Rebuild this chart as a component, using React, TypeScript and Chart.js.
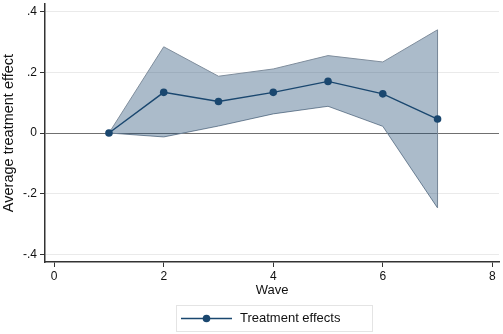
import React, { useEffect, useRef } from "react";
import { Chart, registerables } from "chart.js";

Chart.register(...registerables);

const waves = [1, 2, 3, 4, 5, 6, 7];
const effects = [0, 0.134, 0.104, 0.134, 0.17, 0.129, 0.046];
const upperCI = [0, 0.284, 0.187, 0.211, 0.255, 0.234, 0.34];
const lowerCI = [0, -0.013, 0.023, 0.063, 0.088, 0.022, -0.247];
const yTicks = [-0.4, -0.2, 0, 0.2, 0.4];
const xTicks = [0, 2, 4, 6, 8];
const legendLabel = "Treatment effects";

const NAVY = "#1a476f";
const FONT = "'Liberation Sans', Arial, sans-serif";

const fmt = (v: number) => {
  if (Math.abs(v) < 1e-9) return "0";
  const s = Math.abs(v).toFixed(1).replace(/^0/, "");
  return (v < 0 ? "-" : "") + s;
};

const legendPlugin = {
  id: "customLegend",
  afterDraw(chart: any) {
    const ctx = chart.ctx;
    ctx.save();
    const bx = 176, by = 305, bw = 196, bh = 26;
    ctx.fillStyle = "#ffffff";
    ctx.fillRect(bx, by, bw, bh);
    ctx.strokeStyle = "#e4e4e4";
    ctx.lineWidth = 1;
    ctx.strokeRect(bx + 0.5, by + 0.5, bw, bh);
    const cy = by + bh / 2 + 0.5;
    ctx.strokeStyle = NAVY;
    ctx.lineWidth = 1.4;
    ctx.beginPath();
    ctx.moveTo(181, cy);
    ctx.lineTo(232, cy);
    ctx.stroke();
    ctx.fillStyle = NAVY;
    ctx.beginPath();
    ctx.arc(206.5, cy, 3.8, 0, Math.PI * 2);
    ctx.fill();
    ctx.fillStyle = "#111111";
    ctx.font = `13px ${FONT}`;
    ctx.textBaseline = "middle";
    ctx.textAlign = "left";
    ctx.fillText(legendLabel, 240, cy);
    ctx.restore();
  },
};

export default function App() {
  const ref = useRef<HTMLCanvasElement>(null);
  useEffect(() => {
    if (!ref.current) return;
    const pts = (arr: number[]) => waves.map((w, i) => ({ x: w, y: arr[i] }));
    const last = waves.length - 1;
    const chart = new Chart(ref.current, {
      type: "line",
      data: {
        datasets: [
          {
            label: "upper",
            data: pts(upperCI),
            borderColor: "#7f8d9c",
            borderWidth: 1,
            pointRadius: 0,
            fill: "+1",
            backgroundColor: "rgba(26,71,111,0.37)",
            order: 3,
          },
          {
            label: "lower",
            data: pts(lowerCI),
            borderColor: "#7f8d9c",
            borderWidth: 1,
            pointRadius: 0,
            fill: false,
            order: 3,
          },
          {
            label: "edge",
            data: [
              { x: waves[last], y: lowerCI[last] },
              { x: waves[last], y: upperCI[last] },
            ],
            borderColor: "#7f8d9c",
            borderWidth: 1,
            pointRadius: 0,
            fill: false,
            order: 3,
          },
          {
            label: legendLabel,
            data: pts(effects),
            borderColor: NAVY,
            borderWidth: 1.4,
            pointRadius: 3.8,
            pointBackgroundColor: NAVY,
            pointBorderColor: NAVY,
            pointBorderWidth: 0,
            fill: false,
            order: 1,
          },
        ],
      },
      options: {
        animation: false,
        responsive: false,
        maintainAspectRatio: false,
        layout: { padding: { top: 0, right: 0, left: 0, bottom: 0 } },
        plugins: { legend: { display: false }, tooltip: { enabled: false } },
        scales: {
          x: {
            type: "linear",
            min: -0.168,
            max: 8.122,
            afterBuildTicks: (s: any) => {
              s.ticks = xTicks.map((v) => ({ value: v }));
            },
            afterFit: (s: any) => {
              s.height = 72;
              s.paddingLeft = 0;
              s.paddingRight = 0;
            },
            ticks: {
              font: { size: 12, family: FONT },
              color: "#111",
              padding: 2,
              maxRotation: 0,
              callback: (v: any) => String(v),
            },
            grid: {
              drawOnChartArea: false,
              drawTicks: true,
              tickLength: 5,
              tickColor: "#333",
            },
            border: { color: "#333", width: 1.5 },
            title: {
              display: true,
              text: "Wave",
              font: { size: 13, family: FONT },
              color: "#111",
              padding: { top: 0, bottom: 36 },
            },
          },
          y: {
            type: "linear",
            min: -0.425,
            max: 0.425,
            afterBuildTicks: (s: any) => {
              s.ticks = yTicks.map((v) => ({ value: v }));
            },
            afterFit: (s: any) => {
              s.width = 45;
              s.paddingTop = 0;
              s.paddingBottom = 0;
            },
            ticks: {
              font: { size: 12, family: FONT },
              color: "#111",
              padding: 3,
              callback: (v: any) => fmt(Number(v)),
            },
            grid: {
              color: (c: any) =>
                c.tick && Math.abs(c.tick.value) < 1e-9 ? "#707070" : "#eaeaea",
              lineWidth: 1,
              drawTicks: true,
              tickLength: 5,
              tickColor: "#333",
            },
            border: { color: "#333", width: 1.5 },
            title: {
              display: true,
              text: "Average treatment effect",
              font: { size: 14.5, family: FONT },
              color: "#111",
              padding: { top: 0, bottom: 0 },
            },
          },
        },
      },
      plugins: [legendPlugin],
    });
    return () => chart.destroy();
  }, []);
  return (
    <div style={{ position: "absolute", left: 0, top: 0, width: 503, height: 334, background: "#fff" }}>
      <canvas ref={ref} width={503} height={334} style={{ display: "block" }} />
    </div>
  );
}
